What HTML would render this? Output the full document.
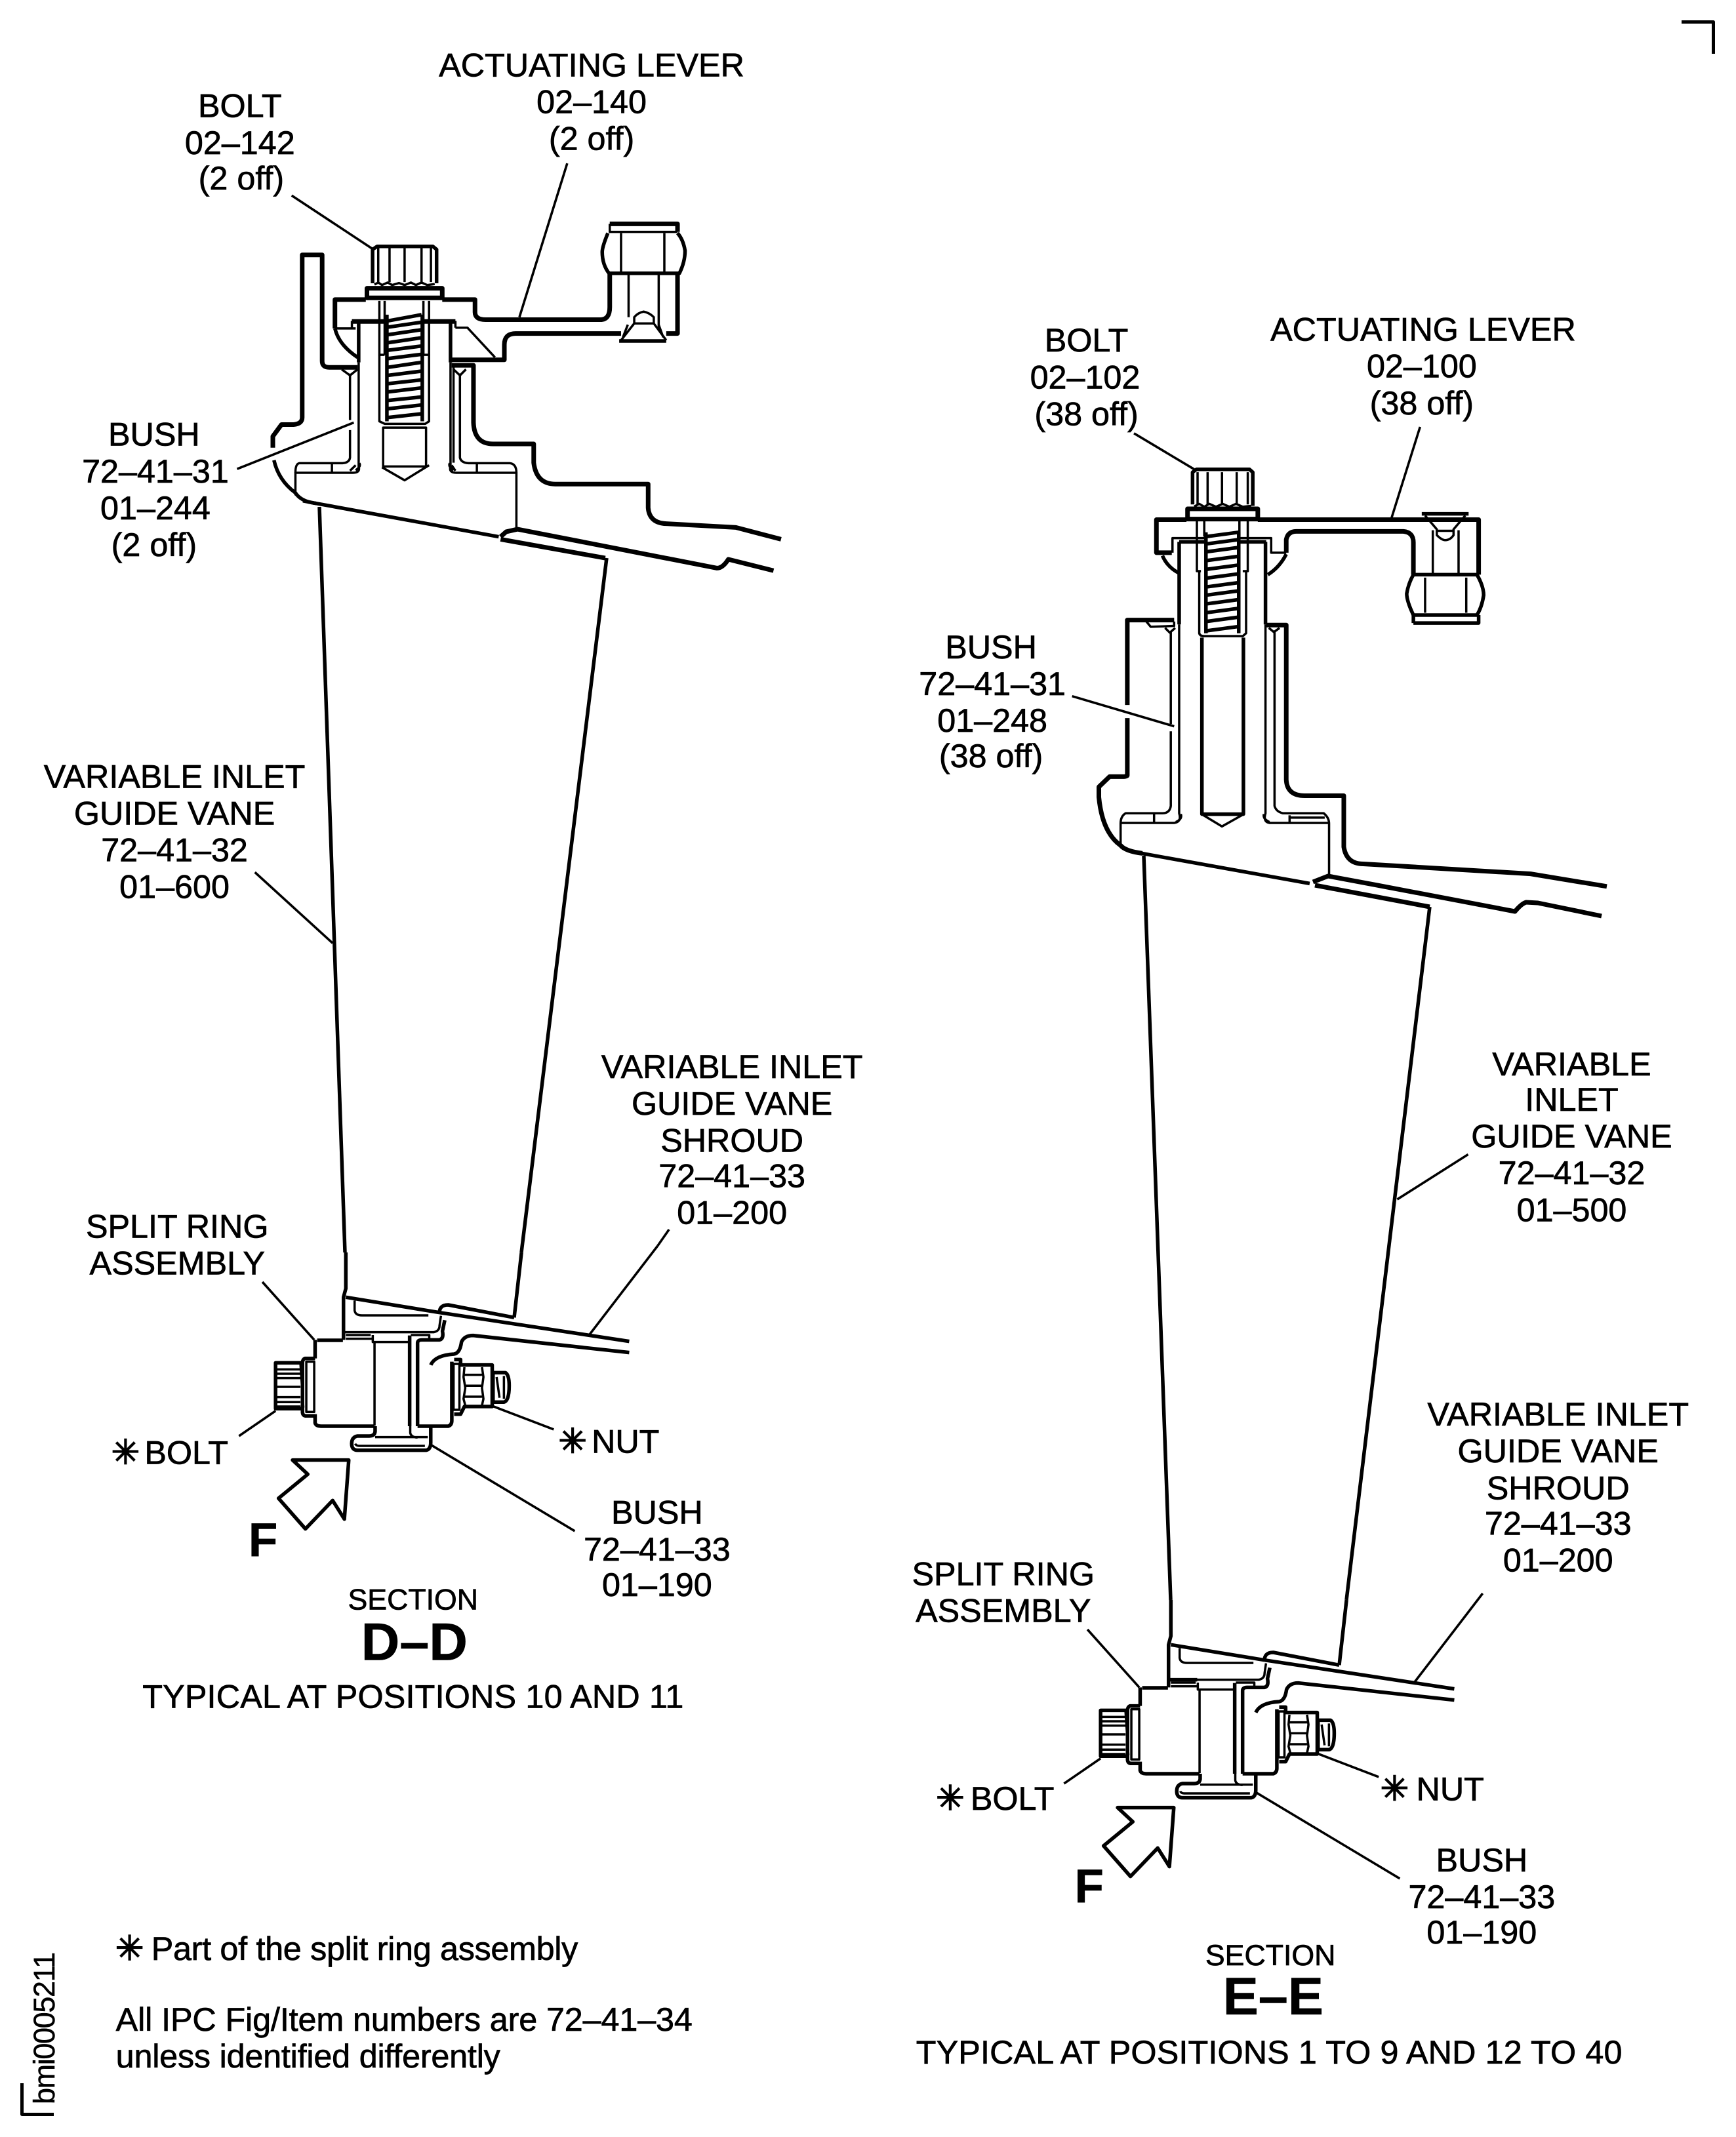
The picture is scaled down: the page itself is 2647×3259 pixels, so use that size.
<!DOCTYPE html>
<html><head><meta charset="utf-8"><title>Sections D-D and E-E</title>
<style>
html,body{margin:0;padding:0;background:#fff}
svg{display:block}
path,line,rect{fill:none;stroke:#000;vector-effect:non-scaling-stroke;stroke-linejoin:round}
.t{stroke-width:7}
.m{stroke-width:5.5}
.n{stroke-width:3.5}
.l{stroke-width:3.6}
text{font-family:"Liberation Sans",Arial,sans-serif;font-size:24.2px;fill:#000;stroke:#000;stroke-width:.35px;text-anchor:middle}
.s{text-anchor:start}
.b{font-weight:bold;stroke-width:.3px}
.x{font-family:"DejaVu Sans",sans-serif;font-size:25px;stroke-width:.8px}
</style></head><body>
<svg xmlns="http://www.w3.org/2000/svg" width="2647" height="3259" viewBox="0 0 2647 3259">
<rect x="0" y="0" width="2647" height="3259" style="fill:#fff;stroke:none"/>

<!-- corner marks -->
<path style="stroke-width:5" d="M2564,33.5 H2612.5 V82"/>
<path style="stroke-width:5" d="M33.5,3177 V3224.5 H82"/>

<!-- D-D vane -->
<path class="m" d="M487,773 L526,1910"/>
<path class="m" d="M925,851 L795,1910"/>
<!-- E-E vane -->
<path class="m" d="M1744,1305 L1785,2440"/>
<path class="m" d="M2180,1383 L2053,2440"/>

<!-- D-D upper assembly -->
<g transform="translate(350,300) scale(.5740,.3827)">
 <path class="l" d="M165,-5 L380,208"/>
 <path class="l" d="M897,-133 L770,480"/>
 <path class="l" d="M20,1085 L330,900"/>
 <!-- plate -->
 <path class="t" d="M115,1000 V955 L138,908 H170 Q193,905 193,880 V232 H246 V655 Q246,680 265,680 H340"/>
 <path class="m" d="M118,1050 Q130,1130 175,1180 Q190,1215 230,1222"/>
 <!-- bolt head -->
 <path class="m" d="M380,345 V210 L392,198 H540 L550,210 V345"/>
 <path class="n" d="M395,205 V340 M425,205 V340 M465,205 V340 M510,205 V340 M535,205 V340"/>
 <path class="n" d="M385,350 L395,342 L405,352 L420,342 L432,352 L450,344 L465,352 L482,342 L495,352 L510,342 L525,352 L545,348"/>
 <path class="t" d="M365,365 H565 V403 H365 Z"/>
 <!-- lever -->
 <path class="t" d="M362,410 H280 V525"/>
 <path class="t" d="M565,410 H652 V460 Q652,490 680,490 H985 Q1010,490 1010,440 V308"/>
 <path class="t" d="M1190,308 V545 H1160"/>
 <path class="t" d="M1040,545 H760 Q730,545 730,590 V650 H590"/>
 <path class="m" d="M280,525 Q290,590 340,640"/>
 <path class="n" d="M280,525 H335 M600,522 H632 L705,640"/>
 <path class="n" d="M325,525 V495 M600,522 V495"/>
 <path class="t" d="M325,497 H412 M515,497 H600"/>
 <!-- nut -->
 <path class="t" d="M1010,108 H1190 V140"/>
 <path class="n" d="M1010,108 V140 H1190"/>
 <path class="m" d="M1005,145 Q990,200 990,220 Q990,270 1008,305 H1195 Q1210,260 1210,215 Q1205,170 1190,145"/>
 <path class="n" d="M1040,145 V305 M1155,145 V305 M1060,308 V480 M1140,308 V530"/>
 <path class="m" d="M1035,575 H1160"/>
 <path class="n" d="M1040,572 L1075,505 V480 Q1085,462 1100,458 Q1115,462 1127,480 V505 L1160,572 M1075,505 H1127 M1058,510 L1045,560 M1140,510 L1152,560"/>
 <!-- stem -->
 <path class="m" d="M343,505 V660"/>
 <path class="m" d="M587,505 V660"/>
 <path class="n" d="M343,660 V1075 Q348,1100 328,1100 H175 V1190 M587,660 V1075 Q582,1100 602,1100 H762 V1325"/>
 <path class="n" d="M335,1090 Q350,1075 345,1062 M320,1092 L335,1070 M595,1090 Q580,1075 585,1062 M600,1092 L590,1070"/>
 <!-- shaft + threads -->
 <path class="n" d="M398,415 V630 H412 M412,415 V630 M530,415 V630 H515 M515,415 V630"/>
 <path class="m" d="M418,470 V895 M512,470 V895"/>
 <path class="n" d="M398,630 V895 L412,905 H520 L530,895 V630"/>
 <path class="m" d="M420,495 L510,470 M420,520 L510,500 M420,550 L510,530 M420,582 L510,562 M420,612 L510,595 M420,645 L510,628 M420,680 L510,660 M420,712 L510,695 M420,745 L510,730 M420,778 L510,762 M420,812 L510,798 M420,845 L510,830 M420,880 L510,865"/>
 <path class="n" d="M408,920 H522 V1075 H408 Z M405,1078 L465,1130 L530,1070"/>
 <!-- bush -->
 <path class="n" d="M320,705 V890 M320,930 V1040 Q318,1060 300,1062 H185 Q175,1065 175,1100"/>
 <path class="n" d="M612,705 V1040 Q615,1060 635,1062 H745 Q762,1065 762,1100"/>
 <path class="n" d="M298,688 L320,712 L340,688 M595,680 V1060 M595,688 L612,712 L628,688"/>
 <path class="n" d="M272,1065 V1100 M657,1065 V1100"/>
 <path class="t" d="M590,672 H648 V900 Q650,985 700,985 H808 V1060 Q815,1145 865,1145 H1112 V1240 Q1115,1300 1160,1303 L1345,1318 L1465,1365"/>
 <!-- base line -->
 <path class="m" d="M195,1212 L230,1222 L715,1355"/>
 <path class="t" d="M720,1355 L735,1335 L765,1325 L1295,1480 Q1310,1480 1325,1445 L1445,1490"/>
 <path class="t" d="M720,1365 L998,1440"/>
</g>

<!-- E-E upper assembly -->
<g transform="translate(1650,680) scale(.5102,.4464)">
 <path class="l" d="M155,-43 L335,80"/>
 <path class="l" d="M1010,-65 L925,245"/>
 <path class="l" d="M-30,855 L275,958"/>
 <path class="m" d="M330,200 V90 L342,80 H500 L510,90 V205"/>
 <path class="n" d="M345,90 V200 M375,90 V200 M418,90 V200 M462,90 V200 M495,90 V200"/>
 <path class="n" d="M335,207 L350,198 L365,208 L380,198 L400,208 L420,198 L440,208 L460,198 L480,208 L505,205"/>
 <path class="t" d="M315,215 H525 V250 H315 Z"/>
 <path class="t" d="M312,252 H222 V365 H268"/>
 <path class="t" d="M525,252 H1185 V440"/>
 <path class="m" d="M240,375 Q255,415 290,435"/>
 <path class="t" d="M610,365 V320 Q615,292 640,292 H960 Q990,295 990,330 V440"/>
 <path class="n" d="M270,365 V315 H365 M470,315 H565 V365 H610"/>
 <path class="m" d="M290,328 H365 M470,328 H550 M555,440 Q590,415 610,370"/>
 <path class="m" d="M290,328 V610 M548,328 V610"/>
 <path class="n" d="M290,610 V1255 Q298,1285 275,1288 H115 M548,610 V1255 Q540,1285 560,1288 H740"/>
 <path class="n" d="M343,255 V428 H355 M365,255 V310 M470,255 V310 M495,255 V428 H480"/>
 <path class="m" d="M370,295 V640 M468,295 V640"/>
 <path class="n" d="M350,430 V640 Q352,650 365,650 H480 L490,640 V430"/>
 <path class="m" d="M370,310 L468,295 M370,335 L468,320 M370,362 L468,347 M370,392 L468,377 M370,422 L468,407 M370,452 L468,437 M370,482 L468,467 M370,510 L468,495 M370,540 L468,525 M370,570 L468,555 M370,600 L468,585 M370,632 L468,617"/>
 <path class="m" d="M358,655 V1258 H482 V655"/>
 <path class="n" d="M360,1260 L418,1300 L480,1260"/>
 <!-- plate left -->
 <path class="t" d="M135,885 V595 H275"/>
 <path class="t" d="M135,930 V1125 Q135,1130 120,1130 H82 L50,1165 V1200 Q60,1320 115,1365 Q130,1385 180,1392"/>
 <path class="n" d="M275,600 V615 L205,618 L192,600"/>
 <!-- bush -->
 <path class="n" d="M265,635 V950 M265,975 V1230 Q262,1255 240,1255 H130 Q115,1265 115,1290 V1360"/>
 <path class="n" d="M248,622 L262,638 L278,622 M558,622 L573,636 L590,622 M215,1258 V1288"/>
 <path class="n" d="M575,635 V1230 Q580,1250 600,1255 H722 Q738,1270 738,1290 V1465 M620,1262 V1288 M620,1270 H725"/>
 <path class="n" d="M295,1258 Q300,1275 280,1285 M543,1258 Q540,1275 560,1285"/>
 <path class="t" d="M550,612 H610 V1140 Q612,1195 665,1195 H782 V1370 Q790,1428 840,1428 L1340,1462 L1568,1505"/>
 <path class="m" d="M178,1392 L680,1495"/>
 <!-- nut -->
 <path class="m" d="M990,605 H1185 V578 M990,605 V578"/>
 <path class="m" d="M990,578 Q970,530 970,505 Q975,470 990,440 H1180 Q1200,480 1200,510 Q1195,550 1180,578 H990"/>
 <path class="n" d="M1025,450 V570 M1148,450 V570 M1048,288 V440 M1125,288 V440"/>
 <path class="m" d="M1015,232 H1155"/>
 <path class="n" d="M1025,238 L1060,285 V305 Q1075,322 1085,322 Q1100,322 1110,305 V285 L1145,238 M1060,290 H1112"/>
</g>
<!-- E-E outer skin (actual coords) -->
<path class="t" d="M2002,1345 L2025,1336 L2100,1350 L2310,1390 Q2320,1378 2327,1376 L2345,1377 L2442,1397"/>
<path class="t" d="M2005,1350 L2180,1383"/>

<!-- lower assembly -->
<defs>
<g id="lower">
 <path class="m" d="M330,30 L330,195 L322,235 V430"/>
 <path class="m" d="M930,30 L905,328"/>
 <path class="m" d="M330,235 L650,305"/>
 <path class="m" d="M650,305 L1298,437"/>
 <path class="m" d="M650,310 Q648,270 680,270 L905,328"/>
 <path class="n" d="M360,250 V295 Q362,318 385,318 H612"/>
 <path class="n" d="M325,395 H630 Q650,390 650,365 L655,320"/>
 <path class="n" d="M330,408 H415 M330,425 H420 M422,408 V440 H548 M552,408 H615 V425"/>
 <path class="n" d="M428,440 V822"/>
 <path class="m" d="M548,410 V825"/>
 <!-- box -->
 <path class="m" d="M232,432 H320 M225,430 V515 M225,770 V810 Q228,825 245,825 H428"/>
 <path class="m" d="M575,825 V445 Q575,430 590,430 H650 Q665,425 660,390 L668,340"/>
 <path class="m" d="M575,825 H680 Q692,820 692,800 V765"/>
 <path class="m" d="M620,545 Q635,500 700,495 Q720,490 725,440 Q735,410 765,410 L1298,488"/>
 <!-- bolt -->
 <path class="m" d="M180,535 H90 V745 H180"/>
 <path class="n" d="M95,565 H175 M95,585 H175 M95,605 H175 M95,645 H175 M95,692 H175 M95,715 H175 M95,735 H175 M175,540 L185,740"/>
 <path class="m" d="M225,515 H190 Q182,520 182,535 V760 Q182,778 195,778 H225"/>
 <path class="n" d="M195,530 H222 V760 H195 Z"/>
 <!-- nut -->
 <path class="m" d="M692,530 V765 M700,520 H722 V545 H830 V735 H735 L722,770 H700"/>
 <path class="n" d="M698,540 H718 V750 H698 Z"/>
 <path class="n" d="M735,590 H795 M735,640 H795 M735,690 H795 M735,555 L732,600 L738,650 L732,700 L738,730 M795,555 L800,600 L795,650 L800,700 L795,730"/>
 <path class="m" d="M835,580 H875 Q888,590 888,640 Q888,710 870,715 H835"/>
 <path class="n" d="M845,600 L855,695 M870,595 V700 M835,580 V715"/>
 <!-- bush foot -->
 <path class="m" d="M430,825 V850 Q428,870 410,870 H370 Q350,875 350,905 Q350,935 370,935 H605 Q620,930 620,900 V830"/>
 <path class="n" d="M430,875 H610 M550,825 V855 Q552,875 575,877 M362,905 Q365,915 375,915 H600"/>
 <!-- arrow -->
 <path class="m" d="M148,980 H340 L325,1250 L285,1165 L192,1295 L100,1155 L200,1045 Z"/>
 <!-- leaders -->
 <path class="l" d="M45,165 L222,430"/>
 <path class="l" d="M-35,870 L90,755"/>
 <path class="l" d="M835,735 L1040,840"/>
 <path class="l" d="M620,910 L1112,1305"/>
 <path class="l" d="M1395,0 L1160,410"/>
</g>
</defs>
<g transform="translate(380,1900) scale(.4464,.3333)"><use href="#lower"/>
 <path class="l" d="M1434,-75 L1395,0"/>
</g>
<g transform="translate(1638,2430) scale(.4464,.3333)"><use href="#lower"/>
 <path class="m" d="M322,395 H420"/>
</g>

<!-- leaders in display coordinates -->
<g transform="scale(2.0785)">
 <path class="l" d="M187,640 L244,692"/>
 <path class="l" d="M1077,847 L1025,880"/>
</g>

<g transform="scale(2.0785) translate(0,-1)">
 <!-- D-D labels -->
 <text x="434" y="57">ACTUATING LEVER</text>
 <text x="434" y="84">02–140</text>
 <text x="434" y="111">(2 off)</text>
 <text x="176" y="87">BOLT</text>
 <text x="176" y="114">02–142</text>
 <text x="177" y="140">(2 off)</text>
 <text x="113" y="328">BUSH</text>
 <text x="114" y="355">72–41–31</text>
 <text x="114" y="382">01–244</text>
 <text x="113" y="409">(2 off)</text>
 <text x="128" y="579">VARIABLE INLET</text>
 <text x="128" y="606">GUIDE VANE</text>
 <text x="128" y="633">72–41–32</text>
 <text x="128" y="660">01–600</text>
 <text x="537" y="792">VARIABLE INLET</text>
 <text x="537" y="819">GUIDE VANE</text>
 <text x="537" y="846">SHROUD</text>
 <text x="537" y="872">72–41–33</text>
 <text x="537" y="899">01–200</text>
 <text x="130" y="909">SPLIT RING</text>
 <text x="130" y="936">ASSEMBLY</text>
 <text class="x" x="92" y="1075">✳</text>
 <text class="s" x="106" y="1075">BOLT</text>
 <text class="x" x="420" y="1067">✳</text>
 <text class="s" x="434" y="1067">NUT</text>
 <text x="482" y="1119">BUSH</text>
 <text x="482" y="1146">72–41–33</text>
 <text x="482" y="1172">01–190</text>
 <text class="b" x="193" y="1143" style="font-size:35px">F</text>
 <text x="303" y="1182" style="font-size:21.5px">SECTION</text>
 <text class="b" x="304" y="1219" style="font-size:39px">D–D</text>
 <text x="303" y="1254" textLength="397">TYPICAL AT POSITIONS 10 AND 11</text>

 <!-- E-E labels -->
 <text x="797" y="259">BOLT</text>
 <text x="796" y="286">02–102</text>
 <text x="797" y="313">(38 off)</text>
 <text x="1044" y="251">ACTUATING LEVER</text>
 <text x="1043" y="278">02–100</text>
 <text x="1043" y="305">(38 off)</text>
 <text x="727" y="484">BUSH</text>
 <text x="728" y="511">72–41–31</text>
 <text x="728" y="538">01–248</text>
 <text x="727" y="564">(38 off)</text>
 <text x="1153" y="790">VARIABLE</text>
 <text x="1153" y="816">INLET</text>
 <text x="1153" y="843">GUIDE VANE</text>
 <text x="1153" y="870">72–41–32</text>
 <text x="1153" y="897">01–500</text>
 <text x="1143" y="1047">VARIABLE INLET</text>
 <text x="1143" y="1074">GUIDE VANE</text>
 <text x="1143" y="1101">SHROUD</text>
 <text x="1143" y="1127">72–41–33</text>
 <text x="1143" y="1154">01–200</text>
 <text x="736" y="1164">SPLIT RING</text>
 <text x="736" y="1191">ASSEMBLY</text>
 <text class="x" x="697" y="1329">✳</text>
 <text class="s" x="712" y="1329">BOLT</text>
 <text class="x" x="1023" y="1322">✳</text>
 <text class="s" x="1039" y="1322">NUT</text>
 <text x="1087" y="1374">BUSH</text>
 <text x="1087" y="1401">72–41–33</text>
 <text x="1087" y="1427">01–190</text>
 <text class="b" x="799" y="1397" style="font-size:35px">F</text>
 <text x="932" y="1443" style="font-size:21.5px">SECTION</text>
 <text class="b" x="934" y="1479" style="font-size:39px">E–E</text>
 <text x="931" y="1515" textLength="518">TYPICAL AT POSITIONS 1 TO 9 AND 12 TO 40</text>

 <!-- notes -->
 <text class="x" x="95" y="1439">✳</text>
 <text class="s" x="111" y="1439" textLength="313">Part of the split ring assembly</text>
 <text class="s" x="85" y="1491" textLength="423">All IPC Fig/Item numbers are 72–41–34</text>
 <text class="s" x="85" y="1518" textLength="282">unless identified differently</text>
</g>
<text transform="translate(83,3209) rotate(-90)" class="s" textLength="232" style="font-size:45px;stroke-width:.5px">bmi0005211</text>
</svg>
</body></html>
